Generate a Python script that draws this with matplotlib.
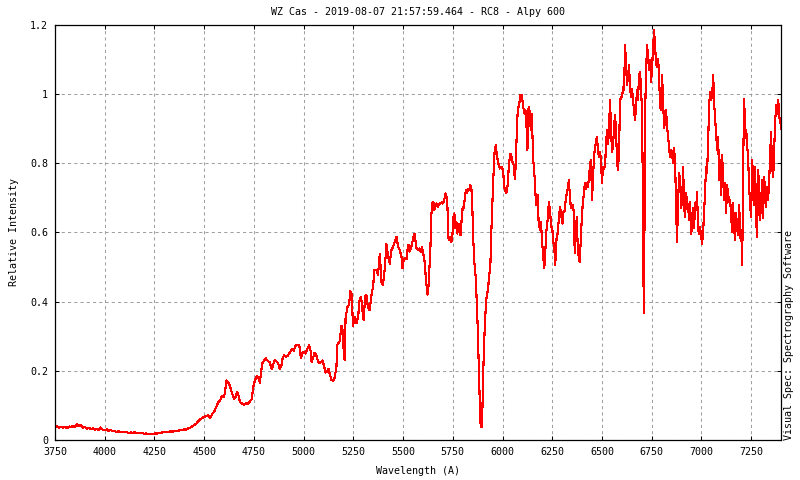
import matplotlib
matplotlib.use("Agg")
import matplotlib.pyplot as plt
from matplotlib.ticker import FuncFormatter

wavelength = [
    3750, 3760, 3770, 3780, 3790, 3800, 3810, 3820, 3830, 3840, 3850, 3860, 3870, 3880, 3890,
    3900, 3910, 3920, 3930, 3940, 3950, 3960, 3970, 3980, 3990, 4000, 4010, 4020, 4030, 4040,
    4050, 4060, 4070, 4080, 4090, 4100, 4110, 4120, 4130, 4140, 4150, 4160, 4170, 4180, 4190,
    4200, 4210, 4220, 4230, 4240, 4250, 4260, 4270, 4280, 4290, 4300, 4310, 4320, 4330, 4340,
    4350, 4360, 4370, 4380, 4390, 4400, 4410, 4420, 4430, 4440, 4450, 4460, 4470, 4480, 4490,
    4500, 4510, 4520, 4530, 4540, 4550, 4560, 4570, 4580, 4590, 4600, 4605, 4612, 4620, 4630,
    4640, 4650, 4658, 4665, 4672, 4680, 4690, 4700, 4710, 4720, 4730, 4740, 4745, 4755, 4765,
    4775, 4780, 4785, 4792, 4800, 4810, 4820, 4830, 4840, 4848, 4856, 4865, 4872, 4880, 4888,
    4895, 4903, 4912, 4920, 4930, 4940, 4950, 4958, 4966, 4975, 4980, 4986, 4993, 5000, 5008,
    5015, 5022, 5028, 5035, 5040, 5047, 5055, 5062, 5070, 5077, 5085, 5095, 5102, 5110, 5118,
    5125, 5132, 5140, 5148, 5155, 5160, 5164, 5169, 5181, 5190, 5195, 5200, 5206, 5211, 5221,
    5228, 5235, 5242, 5248, 5257, 5265, 5274, 5282, 5289, 5295, 5302, 5309, 5315, 5324, 5332,
    5341, 5349, 5356, 5366, 5374, 5383, 5391, 5399, 5409, 5416, 5425, 5433, 5441, 5450, 5458,
    5467, 5475, 5483, 5492, 5497, 5503, 5510, 5517, 5522, 5527, 5533, 5540, 5547, 5553, 5558,
    5563, 5568, 5575, 5582, 5588, 5595, 5600, 5605, 5610, 5615, 5620, 5623, 5627, 5632, 5637,
    5642, 5647, 5652, 5657, 5662, 5668, 5675, 5682, 5690, 5695, 5700, 5707, 5713, 5718, 5723,
    5728, 5733, 5738, 5743, 5748, 5753, 5758, 5763, 5768, 5773, 5778, 5785, 5790, 5795, 5800,
    5805, 5812, 5817, 5822, 5827, 5833, 5838, 5843, 5848, 5853, 5858, 5865, 5870, 5875, 5880,
    5885, 5890, 5897, 5902, 5907, 5913, 5918, 5927, 5932, 5939, 5944, 5949, 5954, 5960, 5966,
    5972, 5979, 5986, 5994, 6003, 6008, 6014, 6019, 6024, 6031, 6038, 6043, 6050, 6056, 6062,
    6067, 6072, 6077, 6083, 6090, 6097, 6104, 6110, 6115, 6120, 6125, 6131, 6137, 6142, 6147,
    6154, 6161, 6166, 6171, 6176, 6181, 6188, 6193, 6198, 6205, 6210, 6216, 6221, 6228, 6233,
    6238, 6245, 6250, 6255, 6260, 6265, 6272, 6277, 6282, 6289, 6296, 6301, 6306, 6311, 6318,
    6323, 6328, 6333, 6338, 6343, 6348, 6353, 6358, 6363, 6368, 6373, 6378, 6383, 6388, 6393,
    6398, 6404, 6409, 6414, 6419, 6424, 6430, 6435, 6440, 6445, 6450, 6455, 6460, 6465, 6470,
    6475, 6480, 6485, 6490, 6495, 6500, 6505, 6510, 6515, 6520, 6525, 6530, 6535, 6540, 6545,
    6550, 6555, 6560, 6565, 6570, 6576, 6581, 6586, 6591, 6596, 6601, 6606, 6611, 6616, 6621,
    6626, 6631, 6636, 6641, 6646, 6651, 6656, 6661, 6666, 6671, 6676, 6681, 6686, 6691, 6696,
    6701, 6705, 6708, 6710, 6713, 6716, 6721, 6727, 6732, 6737, 6742, 6747, 6752, 6757, 6762,
    6767, 6772, 6777, 6782, 6787, 6792, 6797, 6802, 6807, 6812, 6817, 6822, 6827, 6832, 6837,
    6842, 6847, 6852, 6857, 6862, 6867, 6872, 6877, 6883, 6888, 6893, 6898, 6903, 6908, 6913,
    6918, 6923, 6928, 6933, 6938, 6943, 6948, 6953, 6958, 6963, 6968, 6973, 6978, 6983, 6988,
    6993, 6998, 7003, 7008, 7013, 7018, 7023, 7028, 7033, 7039, 7044, 7049, 7054, 7059, 7064,
    7069, 7074, 7079, 7084, 7089, 7094, 7099, 7104, 7109, 7114, 7119, 7124, 7129, 7134, 7139,
    7144, 7149, 7154, 7159, 7164, 7169, 7174, 7179, 7184, 7190, 7195, 7200, 7205, 7210, 7215,
    7220, 7225, 7230, 7235, 7240, 7245, 7250, 7255, 7260, 7265, 7270, 7275, 7280, 7285, 7290,
    7295, 7300, 7305, 7310, 7315, 7320, 7325, 7330, 7335, 7340, 7345, 7350, 7355, 7361, 7366,
    7371, 7376, 7381, 7386, 7391, 7396, 7400,
]

intensity = [
    0.037, 0.040, 0.035, 0.039, 0.036, 0.038, 0.034, 0.039, 0.037, 0.041, 0.038, 0.046, 0.040, 0.043, 0.036,
    0.038, 0.033, 0.036, 0.031, 0.034, 0.030, 0.033, 0.029, 0.036, 0.030, 0.028, 0.031, 0.026, 0.029, 0.025,
    0.026, 0.023, 0.025, 0.022, 0.024, 0.022, 0.023, 0.020, 0.022, 0.021, 0.022, 0.019, 0.021, 0.019, 0.020,
    0.018, 0.019, 0.017, 0.018, 0.016, 0.019, 0.018, 0.021, 0.019, 0.022, 0.022, 0.024, 0.023, 0.025, 0.024,
    0.026, 0.025, 0.027, 0.029, 0.028, 0.031, 0.030, 0.034, 0.036, 0.040, 0.043, 0.047, 0.054, 0.060, 0.064,
    0.066, 0.070, 0.071, 0.064, 0.075, 0.082, 0.095, 0.108, 0.115, 0.128, 0.125, 0.140, 0.172, 0.168, 0.155,
    0.135, 0.118, 0.125, 0.140, 0.130, 0.110, 0.105, 0.102, 0.107, 0.104, 0.112, 0.118, 0.150, 0.172, 0.185,
    0.178, 0.165, 0.190, 0.222, 0.228, 0.236, 0.228, 0.224, 0.205, 0.220, 0.232, 0.226, 0.222, 0.204, 0.215,
    0.238, 0.245, 0.240, 0.244, 0.252, 0.262, 0.258, 0.272, 0.276, 0.274, 0.268, 0.236, 0.250, 0.255, 0.250,
    0.258, 0.268, 0.274, 0.258, 0.226, 0.236, 0.252, 0.248, 0.232, 0.222, 0.225, 0.230, 0.215, 0.195, 0.198,
    0.205, 0.190, 0.173, 0.172, 0.178, 0.195, 0.197, 0.275, 0.285, 0.330, 0.320, 0.270, 0.230, 0.356, 0.385,
    0.390, 0.430, 0.420, 0.330, 0.356, 0.337, 0.356, 0.410, 0.414, 0.376, 0.347, 0.414, 0.420, 0.381, 0.376,
    0.419, 0.443, 0.491, 0.491, 0.477, 0.539, 0.458, 0.448, 0.501, 0.568, 0.530, 0.510, 0.549, 0.559, 0.573,
    0.588, 0.559, 0.549, 0.530, 0.496, 0.520, 0.525, 0.522, 0.549, 0.564, 0.545, 0.555, 0.573, 0.588, 0.597,
    0.573, 0.554, 0.549, 0.554, 0.544, 0.559, 0.539, 0.530, 0.506, 0.462, 0.438, 0.420, 0.438, 0.491, 0.549,
    0.650, 0.684, 0.689, 0.665, 0.679, 0.684, 0.674, 0.684, 0.684, 0.689, 0.684, 0.694, 0.713, 0.703, 0.674,
    0.583, 0.578, 0.588, 0.573, 0.592, 0.645, 0.655, 0.612, 0.631, 0.597, 0.626, 0.597, 0.592, 0.645, 0.674,
    0.670, 0.708, 0.723, 0.713, 0.727, 0.723, 0.737, 0.732, 0.674, 0.578, 0.515, 0.472, 0.405, 0.328, 0.226,
    0.120, 0.039, 0.039, 0.173, 0.275, 0.356, 0.405, 0.438, 0.467, 0.510, 0.607, 0.684, 0.761, 0.833, 0.853,
    0.819, 0.800, 0.785, 0.790, 0.780, 0.732, 0.722, 0.713, 0.727, 0.785, 0.828, 0.824, 0.804, 0.795, 0.756,
    0.800, 0.900, 0.958, 0.968, 0.997, 0.997, 0.963, 0.944, 0.954, 0.915, 0.838, 0.963, 0.949, 0.896, 0.944,
    0.814, 0.761, 0.708, 0.679, 0.708, 0.636, 0.607, 0.631, 0.583, 0.525, 0.496, 0.554, 0.607, 0.645, 0.689,
    0.665, 0.617, 0.612, 0.573, 0.559, 0.506, 0.588, 0.597, 0.631, 0.674, 0.645, 0.626, 0.660, 0.660, 0.694,
    0.713, 0.727, 0.751, 0.713, 0.674, 0.670, 0.679, 0.660, 0.540, 0.588, 0.645, 0.559, 0.530, 0.515, 0.578,
    0.636, 0.689, 0.713, 0.742, 0.727, 0.742, 0.732, 0.761, 0.800, 0.809, 0.694, 0.761, 0.819, 0.848, 0.862,
    0.877, 0.833, 0.819, 0.833, 0.809, 0.742, 0.790, 0.785, 0.790, 0.848, 0.896, 0.857, 0.886, 0.983, 0.915,
    0.833, 0.848, 0.896, 0.939, 0.906, 0.800, 0.780, 0.848, 0.983, 0.992, 0.992, 1.021, 1.012, 1.142, 1.084,
    1.026, 1.050, 1.084, 1.021, 0.992, 1.016, 0.983, 0.954, 0.925, 0.963, 1.012, 0.983, 1.050, 1.065, 1.021,
    0.954, 0.751, 0.539, 0.366, 0.549, 0.915, 1.060, 1.142, 1.103, 1.069, 1.098, 1.036, 1.079, 1.137, 1.185,
    1.137, 1.089, 1.079, 1.103, 1.055, 0.963, 0.954, 1.055, 0.987, 0.901, 0.920, 0.954, 0.906, 0.881, 0.848,
    0.819, 0.838, 0.833, 0.800, 0.843, 0.814, 0.694, 0.573, 0.694, 0.771, 0.751, 0.670, 0.694, 0.790, 0.674,
    0.645, 0.713, 0.689, 0.674, 0.636, 0.689, 0.597, 0.617, 0.670, 0.612, 0.684, 0.665, 0.718, 0.607, 0.597,
    0.617, 0.592, 0.568, 0.597, 0.655, 0.713, 0.790, 0.771, 0.848, 0.973, 1.007, 0.983, 0.997, 1.055, 0.973,
    0.925, 0.886, 0.838, 0.877, 0.751, 0.809, 0.708, 0.824, 0.756, 0.694, 0.742, 0.655, 0.737, 0.713, 0.689,
    0.694, 0.655, 0.602, 0.684, 0.617, 0.578, 0.655, 0.617, 0.592, 0.679, 0.583, 0.607, 0.506, 0.809, 0.987,
    0.872, 0.896, 0.853, 0.809, 0.732, 0.674, 0.645, 0.809, 0.761, 0.679, 0.790, 0.636, 0.588, 0.780, 0.732,
    0.636, 0.689, 0.751, 0.641, 0.761, 0.723, 0.674, 0.732, 0.694, 0.742, 0.819, 0.891, 0.790, 0.761, 0.848,
    0.925, 0.968, 0.944, 0.983, 0.934, 0.925, 0.901,
]

x_ticks = [3750, 4000, 4250, 4500, 4750, 5000, 5250, 5500, 5750, 6000, 6250, 6500, 6750, 7000, 7250]
y_ticks = [0, 0.2, 0.4, 0.6, 0.8, 1.0, 1.2]

title_text = "WZ Cas - 2019-08-07 21:57:59.464 - RC8 - Alpy 600"
x_label = "Wavelength (A)"
y_label = "Relative Intensity"
side_text = "Visual Spec: Spectrography Software"

mono = "DejaVu Sans Mono"
fs = 7.2

fig = plt.figure(figsize=(8, 4.8), dpi=100)
ax = fig.add_axes([55 / 800, 1 - 440 / 480, (781 - 55) / 800, (440 - 25) / 480])

ax.plot(wavelength, intensity, color="#ff0000", linewidth=0.8, antialiased=False)

ax.set_xlim(3750, 7400)
ax.set_ylim(0, 1.2)
ax.set_xticks(x_ticks)
ax.set_yticks(y_ticks)
ax.yaxis.set_major_formatter(FuncFormatter(lambda v, p: "%g" % round(v, 2)))

ax.grid(True, color="#a0a0a0", linestyle=(0, (3, 3)), linewidth=0.75)
ax.set_axisbelow(True)

ax.tick_params(direction="in", length=3, width=0.75, top=True, right=True,
               labelsize=fs, pad=5, colors="black")
for lab in ax.get_xticklabels() + ax.get_yticklabels():
    lab.set_fontfamily(mono)
for sp in ax.spines.values():
    sp.set_linewidth(0.9)
    sp.set_color("black")

fig.text(418 / 800, 1 - 12 / 480, title_text, ha="center", va="center",
         fontsize=fs, family=mono)
fig.text(418 / 800, 1 - 471 / 480, x_label, ha="center", va="center",
         fontsize=fs, family=mono)
fig.text(14 / 800, 1 - 232 / 480, y_label, ha="center", va="center",
         rotation=90, fontsize=fs, family=mono)
fig.text(789 / 800, 1 - 440 / 480, side_text, ha="center", va="bottom",
         rotation=90, fontsize=fs, family=mono)

fig.savefig("out.png", dpi=100)
